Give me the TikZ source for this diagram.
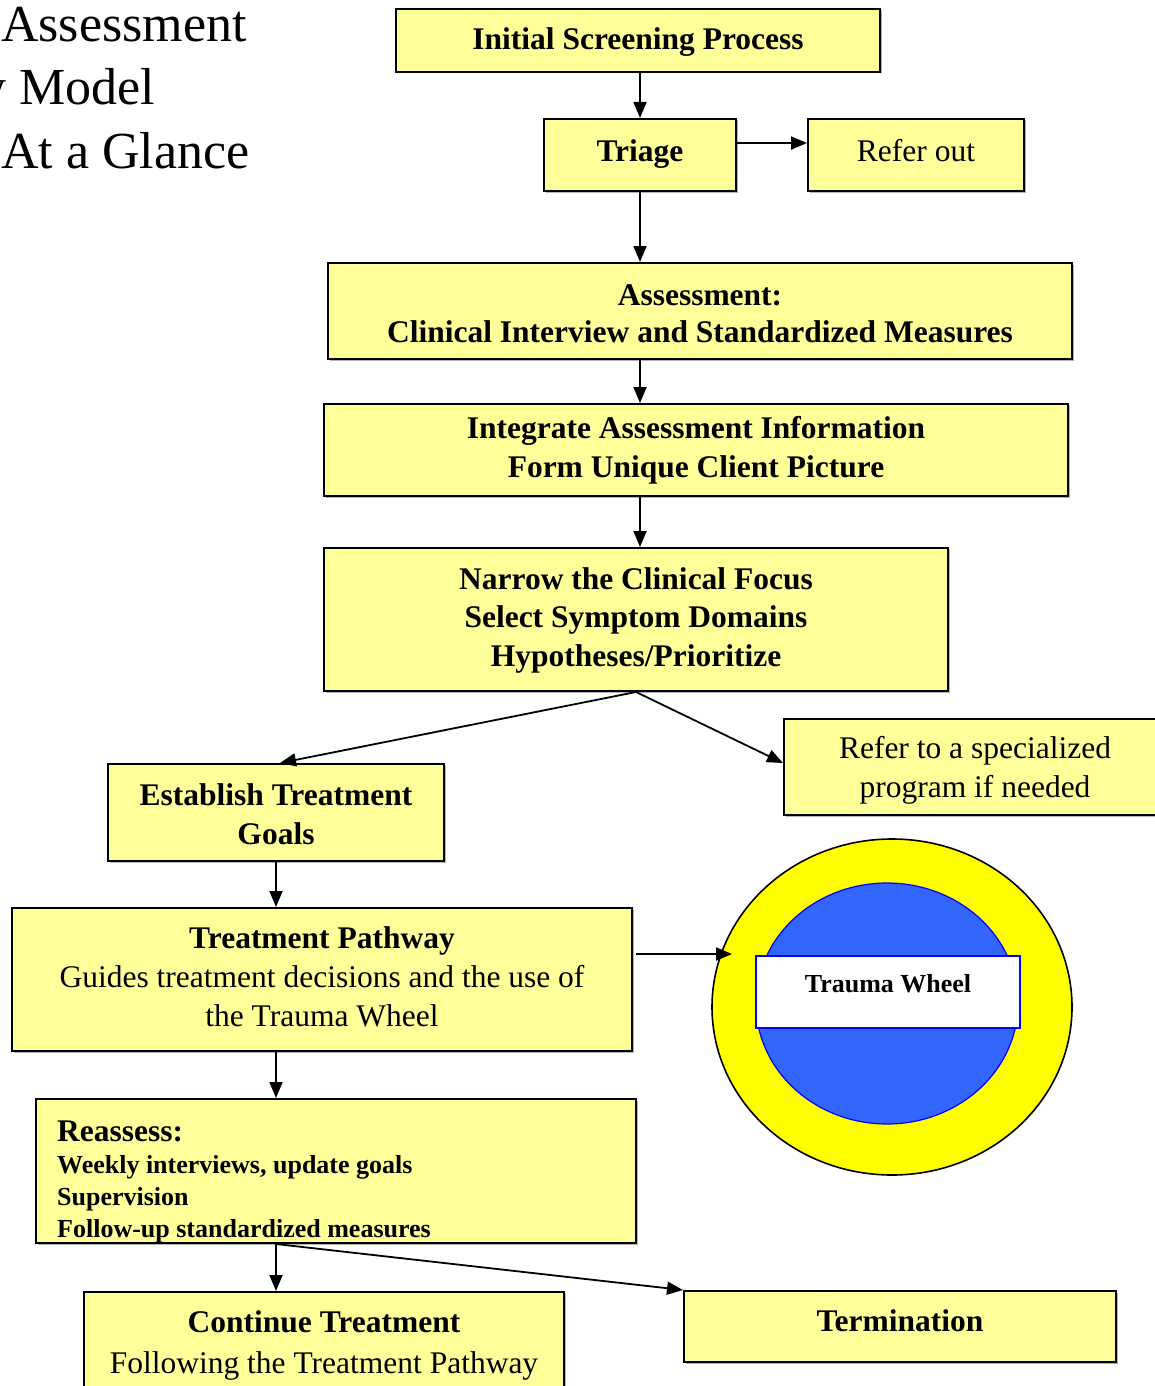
\documentclass[tikz,border=0pt]{standalone}
\usepackage{fontspec}
\setmainfont{Liberation Serif}
\usetikzlibrary{arrows.meta,shapes.geometric,shadows}
\definecolor{boxfill}{HTML}{FFFF99}
\definecolor{wheelyellow}{HTML}{FFFF00}
\definecolor{wheelblue}{HTML}{3366FF}
\definecolor{wheelline}{HTML}{0000FF}
\tikzset{
  box/.style={draw=black, line width=2pt, fill=boxfill, inner sep=0pt,
    drop shadow={shadow xshift=1.5pt, shadow yshift=-1.5pt, fill=gray, opacity=0.6}},
  boxtext/.style={anchor=base, inner sep=0pt, align=center, font=\fontsize{31.5}{38.5}\selectfont},
  boldtext/.style={boxtext, font=\fontsize{31.5}{38.5}\selectfont\bfseries},
  conn/.style={line width=1.8pt, -{Triangle[length=16pt,width=13pt]}},
  titletext/.style={anchor=base west, inner sep=0pt, font=\fontsize{52}{63}\selectfont}
}
\begin{document}
\begin{tikzpicture}[x=1pt,y=-1pt]
\useasboundingbox (0,0) rectangle (1155,1386);
% title
\node[titletext] (t1) at (1,42) {Assessment};
\node[titletext] (t2) at (-20,105) {y Model};
\node[titletext] (t3) at (1,168) {At a Glance};
% boxes
\node[box, minimum width=484pt, minimum height=63pt] (init) at (638,40.5) {};
\node[boldtext] (inittext) at (638,50) {Initial Screening Process};
\node[box, minimum width=192pt, minimum height=72pt] (triage) at (640,155) {};
\node[boldtext] (triagetext) at (640,161) {Triage};
\node[box, minimum width=216pt, minimum height=72pt] (referout) at (916,155) {};
\node[boxtext] (referouttext) at (916,161) {Refer out};
\node[box, minimum width=744pt, minimum height=96pt] (assess) at (700,311) {};
\node[boldtext, font=\fontsize{31.5}{37}\selectfont\bfseries] (assesstext) at (700,342) {Assessment:\\Clinical Interview and Standardized Measures};
\node[box, minimum width=744pt, minimum height=92pt] (integ) at (696,450) {};
\node[boldtext] (integtext) at (696,477) {Integrate Assessment Information\\Form Unique Client Picture};
\node[box, minimum width=624pt, minimum height=143pt] (narrow) at (636,619.5) {};
\node[boldtext] (narrowtext) at (636,666) {Narrow the Clinical Focus\\Select Symptom Domains\\Hypotheses/Prioritize};
\node[box, minimum width=336pt, minimum height=97pt] (goals) at (276,812.5) {};
\node[boldtext] (goalstext) at (276,844) {Establish Treatment\\Goals};
\node[box, minimum width=382pt, minimum height=96pt] (referspec) at (975,767) {};
\node[boxtext] (referspectext) at (975,797) {Refer to a specialized\\program if needed};
\node[box, minimum width=620pt, minimum height=143pt] (pathway) at (322,979.5) {};
\node[boxtext, font=\fontsize{31.5}{39}\selectfont] (pathwaytext) at (322,1026) {\textbf{Treatment Pathway}\\Guides treatment decisions and the use of\\the Trauma Wheel};
\node[box, minimum width=600pt, minimum height=144pt] (reassess) at (336,1171) {};
\node[anchor=base west, inner sep=0pt, align=left, font=\fontsize{26}{32}\selectfont\bfseries] (reasstext) at (57,1237)
  {{\fontsize{31.5}{33}\selectfont Reassess:}\\Weekly interviews, update goals\\Supervision\\Follow-up standardized measures};
\node[box, minimum width=480pt, minimum height=100pt] (continue) at (324,1342) {};
\node[boxtext, font=\fontsize{31.5}{40.5}\selectfont] (continuetext) at (324,1373) {\textbf{Continue Treatment}\\Following the Treatment Pathway};
\node[box, minimum width=432pt, minimum height=71pt] (termination) at (900,1326.5) {};
\node[boldtext] (termtext) at (900,1331) {Termination};
% trauma wheel
\node[ellipse, draw=black, line width=1.6pt, fill=wheelyellow, minimum width=360pt, minimum height=336pt, inner sep=0pt] (wheel) at (892,1007) {};
\node[ellipse, draw=wheelline, line width=1.2pt, fill=wheelblue, minimum width=262pt, minimum height=241pt, inner sep=0pt] (hub) at (887,1003.5) {};
\node[draw=wheelline, line width=1.6pt, fill=white, minimum width=264pt, minimum height=72pt, inner sep=0pt] (wlabel) at (888,992) {};
\node[anchor=base, inner sep=0pt, font=\fontsize{26}{30}\selectfont\bfseries] (wtext) at (888,992) {Trauma Wheel};
\coordinate (wheelin) at (732,954);
\coordinate (pathout) at (636,954);
% connectors
\draw[conn] (init.south -| triage.north) -- (triage.north);
\draw[conn] ([yshift=12pt]triage.east) -- ([yshift=12pt]referout.west);
\draw[conn] (triage.south) -- (triage.south |- assess.north);
\draw[conn] (triage.south |- assess.south) -- (triage.south |- integ.north);
\draw[conn] (triage.south |- integ.south) -- (triage.south |- narrow.north);
\draw[conn] (narrow.south) -- ([xshift=4pt]goals.north);
\draw[conn] (narrow.south) -- ([yshift=4pt]referspec.west);
\draw[conn] (goals.south) -- (goals.south |- pathway.north);
\draw[conn] (pathout) -- (wheelin);
\draw[conn] (goals.south |- pathway.south) -- (goals.south |- reassess.north);
\draw[conn] (goals.south |- reassess.south) -- (goals.south |- continue.north);
\draw[conn] (goals.south |- reassess.south) -- (termination.north west);
\end{tikzpicture}
\end{document}
